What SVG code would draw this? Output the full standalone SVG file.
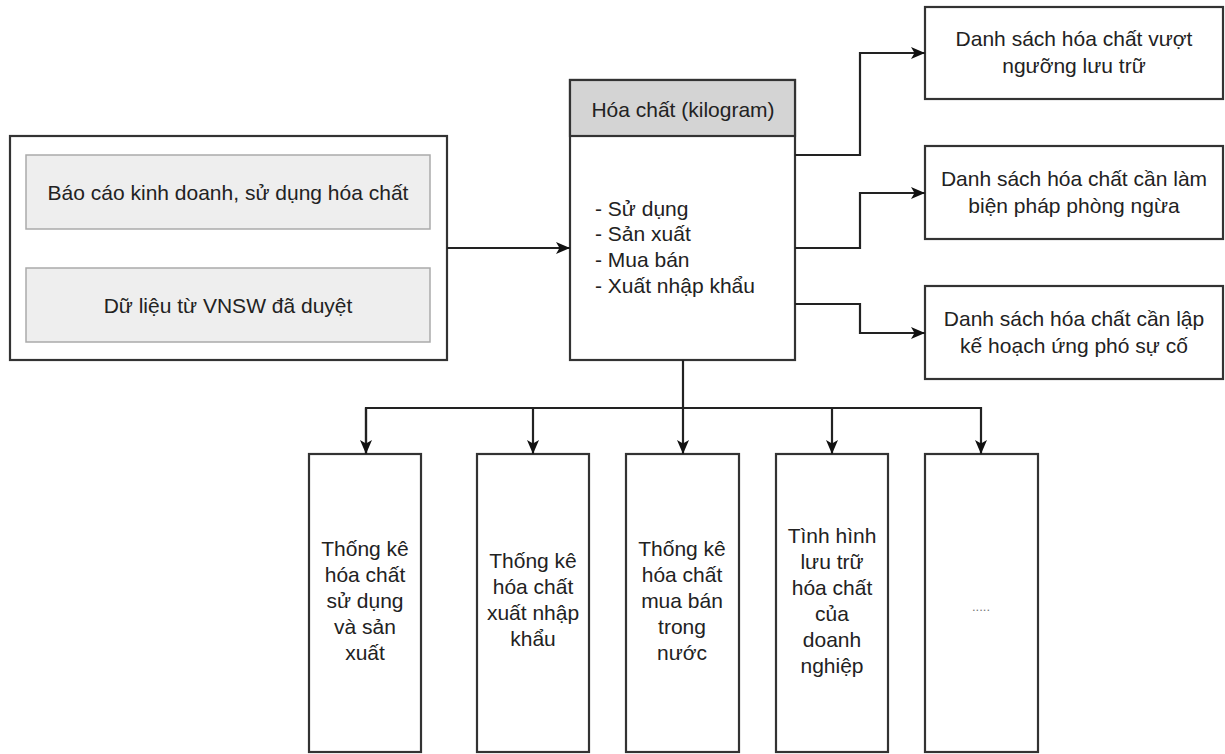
<svg xmlns="http://www.w3.org/2000/svg" width="1225" height="754" viewBox="0 0 1225 754">
<style>
text{font-family:"Liberation Sans",Arial,sans-serif;font-size:21px;fill:#222;}
.c{text-anchor:middle;}
.box{fill:#fff;stroke:#333;stroke-width:2.2;}
.inner{fill:#eeeeee;stroke:#aaa;stroke-width:1.5;}
.hdr{fill:#d4d4d4;stroke:#333;stroke-width:2.2;}
.conn{fill:none;stroke:#222;stroke-width:2.2;}
</style>
<defs>
<marker id="arr" viewBox="0 0 14 12" refX="14" refY="6" markerWidth="14" markerHeight="12" markerUnits="userSpaceOnUse" orient="auto">
<path d="M0,0 L14,6 L0,12 L3.5,6 Z" fill="#111"/>
</marker>
</defs>
<rect width="1225" height="754" fill="#fff"/>

<g id="sources">
<rect class="box" x="10" y="136" width="437" height="224"/>
<g id="bao-cao">
<rect class="inner" x="26" y="155" width="404" height="74"/>
<text class="c" x="228" y="200">Báo cáo kinh doanh, sử dụng hóa chất</text>
</g>
<g id="vnsw">
<rect class="inner" x="26" y="268" width="404" height="74"/>
<text class="c" x="228" y="313">Dữ liệu từ VNSW đã duyệt</text>
</g>
</g>

<g id="hoa-chat">
<rect class="box" x="570" y="80" width="225" height="280"/>
<rect class="hdr" x="570" y="80" width="225" height="56"/>
<text class="c" x="683" y="117">Hóa chất (kilogram)</text>
<text x="595" y="216">- Sử dụng</text>
<text x="595" y="241">- Sản xuất</text>
<text x="595" y="267">- Mua bán</text>
<text x="595" y="293">- Xuất nhập khẩu</text>
</g>

<g id="vuot-nguong">
<rect class="box" x="925" y="7" width="298" height="92"/>
<text class="c" x="1074" y="46">Danh sách hóa chất vượt</text>
<text class="c" x="1074" y="73">ngưỡng lưu trữ</text>
</g>
<g id="phong-ngua">
<rect class="box" x="925" y="146" width="298" height="93"/>
<text class="c" x="1074" y="186">Danh sách hóa chất cần làm</text>
<text class="c" x="1074" y="213">biện pháp phòng ngừa</text>
</g>
<g id="ung-pho">
<rect class="box" x="925" y="286" width="298" height="93"/>
<text class="c" x="1074" y="326">Danh sách hóa chất cần lập</text>
<text class="c" x="1074" y="353">kế hoạch ứng phó sự cố</text>
</g>

<g id="tk-su-dung">
<rect class="box" x="309" y="454" width="112" height="298"/>
<text class="c" x="365" y="556">Thống kê</text>
<text class="c" x="365" y="582">hóa chất</text>
<text class="c" x="365" y="608">sử dụng</text>
<text class="c" x="365" y="634">và sản</text>
<text class="c" x="365" y="660">xuất</text>
</g>
<g id="tk-xnk">
<rect class="box" x="477" y="454" width="112" height="298"/>
<text class="c" x="533" y="568">Thống kê</text>
<text class="c" x="533" y="594">hóa chất</text>
<text class="c" x="533" y="620">xuất nhập</text>
<text class="c" x="533" y="646">khẩu</text>
</g>
<g id="tk-mua-ban">
<rect class="box" x="626" y="454" width="113" height="298"/>
<text class="c" x="682" y="556">Thống kê</text>
<text class="c" x="682" y="582">hóa chất</text>
<text class="c" x="682" y="608">mua bán</text>
<text class="c" x="682" y="634">trong</text>
<text class="c" x="682" y="660">nước</text>
</g>
<g id="luu-tru">
<rect class="box" x="776" y="454" width="112" height="298"/>
<text class="c" x="832" y="543">Tình hình</text>
<text class="c" x="832" y="569">lưu trữ</text>
<text class="c" x="832" y="595">hóa chất</text>
<text class="c" x="832" y="621">của</text>
<text class="c" x="832" y="647">doanh</text>
<text class="c" x="832" y="673">nghiệp</text>
</g>
<g id="khac">
<rect class="box" x="925" y="454" width="113" height="298"/>
<text class="c" x="981" y="611" style="font-size:13px;fill:#777">.....</text>
</g>

<g id="connectors">
<path class="conn" d="M447,248 H570" marker-end="url(#arr)"/>
<path class="conn" d="M795,155 H860 V53 H925" marker-end="url(#arr)"/>
<path class="conn" d="M795,248 H860 V193 H925" marker-end="url(#arr)"/>
<path class="conn" d="M795,304 H860 V333 H925" marker-end="url(#arr)"/>
<path class="conn" d="M683,360 V408"/>
<path class="conn" d="M366,454 V408 H981 V454" marker-end="url(#arr)"/>
<path class="conn" d="M366,408 V454" marker-end="url(#arr)"/>
<path class="conn" d="M533,408 V454" marker-end="url(#arr)"/>
<path class="conn" d="M683,408 V454" marker-end="url(#arr)"/>
<path class="conn" d="M832,408 V454" marker-end="url(#arr)"/>
</g>
</svg>
